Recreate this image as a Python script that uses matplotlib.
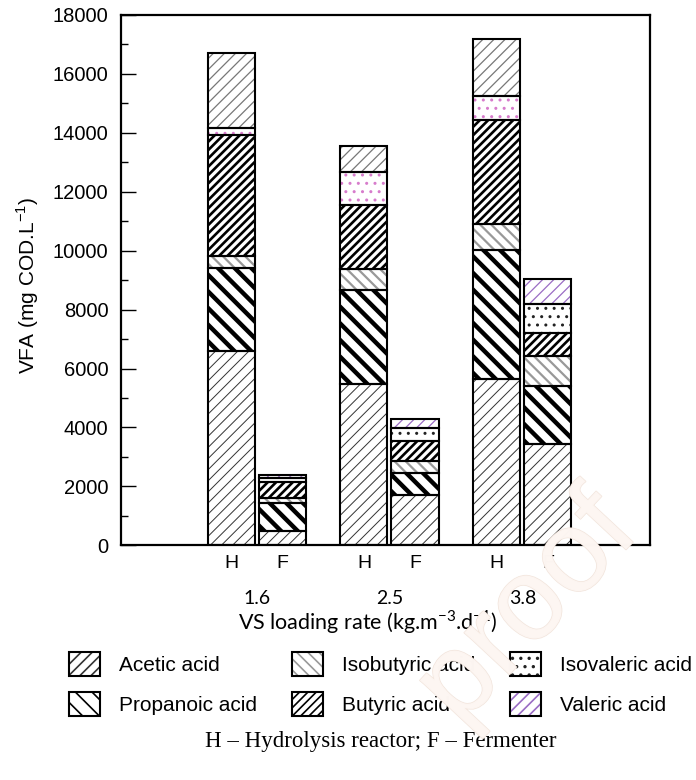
import matplotlib
matplotlib.use('Agg')
import matplotlib.pyplot as plt
import matplotlib.patches as mpatches
import matplotlib.patheffects as pe
import numpy as np

# order of bars: H1.6, F1.6, H2.5, F2.5, H3.8, F3.8
reactor = ["H", "F", "H", "F", "H", "F"]
loading = ["1.6", "2.5", "3.8"]

acetic = [6600, 490, 5470, 1710, 5650, 3430]
propanoic = [2810, 950, 3200, 735, 4380, 1970]
isobutyric = [420, 170, 720, 420, 880, 1010]
butyric = [4080, 530, 2170, 680, 3510, 810]
isovaleric = [260, 150, 1110, 430, 820, 980]
valeric = [2540, 100, 870, 305, 1950, 850]

acids = ["Acetic acid", "Propanoic acid", "Isobutyric acid",
         "Butyric acid", "Isovaleric acid", "Valeric acid"]
series = [acetic, propanoic, isobutyric, butyric, isovaleric, valeric]

# hatch, hatch linewidth, hatch colour for H and F bars, legend colour
styles = [
    ("///", 0.7, "#333333", "#333333", "#333333"),
    ("\\\\", 3.2, "black", "black", "black"),
    ("\\\\\\", 1.6, "#999999", "#999999", "#999999"),
    ("////", 1.9, "black", "black", "black"),
    ("..", 1.0, "#d77ccc", "#222222", "#222222"),
    ("///", 0.9, "#777777", "#9a6cc4", "#9a6cc4"),
]

plt.rcParams['font.family'] = ['Liberation Sans', 'DejaVu Sans']

fig = plt.figure(figsize=(6.96, 7.8), dpi=100)
ax = fig.add_axes([121/696, 1-545.3/780, 529/696, 530.3/780])

groups = np.array([1, 2, 3])
off = 0.192
width = 0.354
xpos = np.ravel(np.column_stack([groups - off, groups + off]))

bottom = np.zeros(6)
handles = []
for vals, (h, hlw, ch, cf, cl) in zip(series, styles):
    cols = [ch if r == "H" else cf for r in reactor]
    with plt.rc_context({'hatch.linewidth': hlw}):
        bars = ax.bar(xpos, vals, width, bottom=bottom, color='white',
                      edgecolor=cols, linewidth=0, hatch=h, zorder=2)
        for b in bars:
            if hasattr(b, 'set_hatch_linewidth'):
                b.set_hatch_linewidth(hlw)
        ax.bar(xpos, vals, width, bottom=bottom, fill=False,
               edgecolor='black', linewidth=1.5, zorder=3)
        hp = mpatches.Patch(facecolor='white', edgecolor=cl, hatch=h, linewidth=0)
        if hasattr(hp, 'set_hatch_linewidth'):
            hp.set_hatch_linewidth(hlw)
        op = mpatches.Patch(fill=False, edgecolor='black', linewidth=1.5)
        handles.append((hp, op))
    bottom += np.array(vals)

ax.set_xlim(-0.02, 3.96)
ax.set_ylim(0, 18000)
ax.set_yticks(np.arange(0, 18001, 2000))
ax.set_yticks(np.arange(1000, 18000, 2000), minor=True)
ax.tick_params(axis='y', which='major', direction='in', length=11, width=1,
               labelsize=14.5, pad=9)
ax.tick_params(axis='y', which='minor', direction='in', length=5, width=1)
ax.set_xticks(xpos, reactor)
ax.tick_params(axis='x', length=0, labelsize=14, pad=7)
for s in ax.spines.values():
    s.set_linewidth(1.6)

for g, lab in zip(groups, loading):
    ax.text(g, -0.1, lab, transform=ax.get_xaxis_transform(), ha='center',
            va='center', fontsize=14, family=['Lato', 'DejaVu Sans'])

ax.set_xlabel('VS loading rate (kg.m$^{\\mathregular{-3}}$.d$^{\\mathregular{-1}}$)',
              fontsize=15.5, family=['Lato', 'DejaVu Sans'])
ax.xaxis.set_label_coords(0.467, -0.118)
ax.set_ylabel('VFA (mg COD.L$^{\\mathregular{-1}}$)', fontsize=15)
ax.yaxis.set_label_coords(-0.151, 0.49)

with plt.rc_context({'hatch.linewidth': 1.2}):
    fig.legend(handles, acids, ncol=3, loc='upper left',
               bbox_to_anchor=(69/696, 1-652/780), frameon=False,
               borderpad=0, borderaxespad=0, handlelength=1.48,
               handleheight=1.38, handletextpad=0.9, columnspacing=1.7,
               labelspacing=0.8, fontsize=15)

fig.text(381/696, 1-742/780, 'H \u2013 Hydrolysis reactor; F \u2013 Fermenter',
         ha='center', va='center', fontsize=16.5, family='Liberation Serif')

# watermark
fig.text(528/696, 1-610/780, 'proof', rotation=47, ha='center', va='center',
         rotation_mode='anchor', fontsize=84, color='#fdf6f2', alpha=0.92,
         zorder=10,
         path_effects=[pe.withStroke(linewidth=1.0, foreground='#f1e3da')])

fig.savefig('out.png', dpi=100)
